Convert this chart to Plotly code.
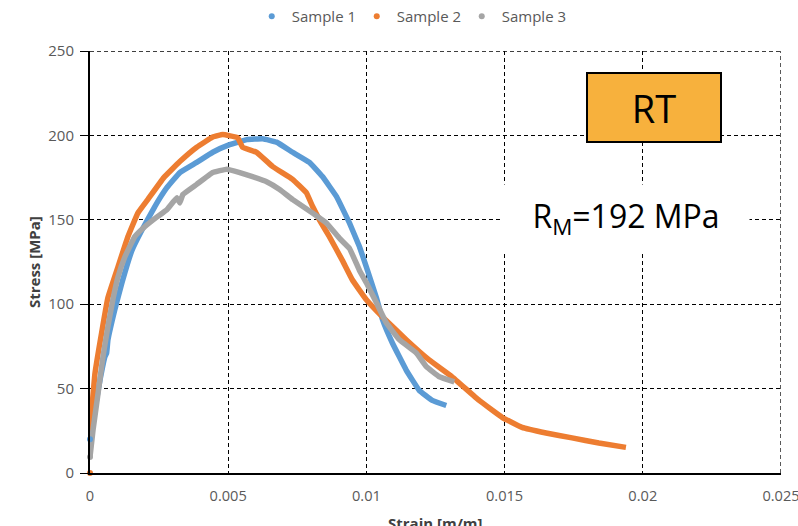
import plotly.graph_objects as go

# Stress-strain curves at room temperature, three specimens
s1_strain = [0.0, 0.00018, 0.00036, 0.00054, 0.00060, 0.00065, 0.00090, 0.00116, 0.00152, 0.00188,
             0.00235, 0.00278, 0.00325, 0.00386, 0.00444, 0.00505, 0.00567, 0.00625,
             0.00675, 0.00733, 0.00794, 0.00841, 0.00892, 0.00939, 0.00975, 0.01000,
             0.01036, 0.01058, 0.01094, 0.01144, 0.01191, 0.01238, 0.01289]
s1_stress = [20, 38, 55, 69, 71, 79, 97, 113, 132, 144,
             158, 169, 178, 184, 190, 194.5, 197.5, 198,
             196, 190, 184, 175.6, 163.7, 148, 134, 122,
             104, 91, 77, 61, 49, 43, 40]

s2_strain = [0.0, 0.00018, 0.00042, 0.00065, 0.00101, 0.00137, 0.00173, 0.00209, 0.00267,
             0.00325, 0.00386, 0.00444, 0.00480, 0.00534, 0.00552, 0.00603, 0.00661,
             0.00733, 0.00783, 0.00805, 0.00830, 0.00866, 0.00913, 0.00949, 0.01000,
             0.01058, 0.01144, 0.01227, 0.01310, 0.01408, 0.01491, 0.01563, 0.01650,
             0.01744, 0.01841, 0.01939]
s2_stress = [25, 59, 83, 104, 122, 140, 154, 162, 175,
             184.5, 193, 199, 200.5, 198.7, 193, 190, 181.5,
             174, 166, 158, 150, 140, 126, 114.5, 102.6,
             92.5, 79, 67, 57, 43, 33, 27, 23.7,
             20.8, 17.8, 15.2]

s3_strain = [0.0, 0.00011, 0.00029, 0.00047, 0.00065, 0.00083, 0.00101, 0.00126, 0.00162,
             0.00199, 0.00245, 0.00278, 0.00314, 0.00325, 0.00336, 0.00386, 0.00444,
             0.00495, 0.00542, 0.00588, 0.00639, 0.00686, 0.00733, 0.00805, 0.00856,
             0.00903, 0.00939, 0.00975, 0.01000, 0.01036, 0.01072, 0.01119, 0.01181,
             0.01217, 0.01264, 0.01318]
s3_stress = [9.5, 25.5, 47, 69, 87, 103, 116, 128, 140,
             146, 152, 156, 163, 160, 165, 171, 178,
             180, 178, 175.6, 172.6, 168, 162, 154, 148,
             139, 133, 120, 112.7, 101, 89, 79, 71,
             63, 57, 54]

# first recorded point of each specimen (also used as the legend marker)
start_strain = [0.0, 0.0, 0.0]
start_stress = [20, 0, 9.5]

series_names = ["Sample 1", "Sample 2", "Sample 3"]
colors = ["#5B9BD5", "#ED7D31", "#A5A5A5"]

x_ticks = [0, 0.005, 0.01, 0.015, 0.02, 0.025]
x_tick_text = ["0", "0.005", "0.01", "0.015", "0.02", "0.025"]
y_ticks = [0, 50, 100, 150, 200, 250]

label_rt = "RT"
label_rm = "R<sub>M</sub>=192 MPa"

FONT = "Open Sans, Lato, sans-serif"
TEXT_GREY = "#595959"
GRID_DASH = "4px,3px"

fig = go.Figure()

curves = [(s1_strain, s1_stress), (s2_strain, s2_stress), (s3_strain, s3_stress)]
for i, (xs, ys) in enumerate(curves):
    fig.add_trace(go.Scatter(
        x=xs, y=ys, mode="lines",
        line=dict(color=colors[i], width=5.5, shape="spline", smoothing=0.25),
        legendgroup=series_names[i], showlegend=False, hoverinfo="skip",
    ))

for i, name in enumerate(series_names):
    fig.add_trace(go.Scatter(
        x=[start_strain[i]], y=[start_stress[i]], mode="markers", name=name,
        marker=dict(color=colors[i], size=6),
        legendgroup=name, cliponaxis=False,
    ))

# outer gridlines at the top and right limits of the axes
fig.add_shape(type="line", xref="x domain", yref="y", x0=0, x1=1,
              y0=y_ticks[-1], y1=y_ticks[-1], layer="below",
              line=dict(color="black", width=1.3, dash=GRID_DASH))
fig.add_shape(type="line", xref="x", yref="y domain", x0=x_ticks[-1], x1=x_ticks[-1],
              y0=0, y1=1, layer="below",
              line=dict(color="black", width=1.3, dash=GRID_DASH))

fig.add_annotation(
    x=0.0204, y=216.5, xref="x", yref="y", text=label_rt, showarrow=False,
    font=dict(family=FONT, size=38, color="black"),
    bgcolor="#F7B13D", bordercolor="black", borderwidth=2, borderpad=0,
    width=132, height=67,
)
fig.add_annotation(
    x=0.01939, y=151, xref="x", yref="y", text=label_rm, showarrow=False,
    font=dict(family=FONT, size=32, color="black"),
    bgcolor="white", width=244, height=64,
)

# axis titles
fig.add_annotation(
    x=0.5, y=-0.09, xref="paper", yref="paper", text="<b>Strain [m/m]</b>",
    showarrow=False, xanchor="center", yanchor="top",
    font=dict(family=FONT, size=15, color="#404040"),
)
fig.add_annotation(
    x=-0.081, y=0.5, xref="paper", yref="paper", text="<b>Stress [MPa]</b>",
    showarrow=False, textangle=-90, xanchor="center", yanchor="middle",
    font=dict(family=FONT, size=15, color="#404040"),
)

grid_common = dict(
    showgrid=True, gridcolor="black", gridwidth=1.3, griddash=GRID_DASH,
    showline=True, linecolor="black", linewidth=2, zeroline=False,
    ticklabeloverflow="allow", automargin=False,
)

fig.update_xaxes(
    range=[0, 0.025], tickvals=x_ticks, ticktext=x_tick_text,
    ticks="", ticklabelstandoff=8,
    tickfont=dict(family=FONT, size=14.6, color=TEXT_GREY), **grid_common,
)
fig.update_yaxes(
    range=[0, 250], tickvals=y_ticks,
    ticks="outside", ticklen=8, tickcolor="black", tickwidth=1.3,
    ticklabelstandoff=3,
    tickfont=dict(family=FONT, size=15, color=TEXT_GREY), **grid_common,
)

fig.update_layout(
    width=798, height=526,
    margin=dict(l=90, r=17, t=51, b=53, autoexpand=False),
    paper_bgcolor="white", plot_bgcolor="white",
    font=dict(family=FONT, color=TEXT_GREY),
    legend=dict(
        orientation="h", x=0.462, xanchor="center", y=1.0, yanchor="top",
        yref="container", font=dict(family=FONT, size=15, color=TEXT_GREY),
        entrywidth=60, itemwidth=30, bgcolor="rgba(0,0,0,0)",
    ),
    showlegend=True,
)

fig.write_html("out.html")
